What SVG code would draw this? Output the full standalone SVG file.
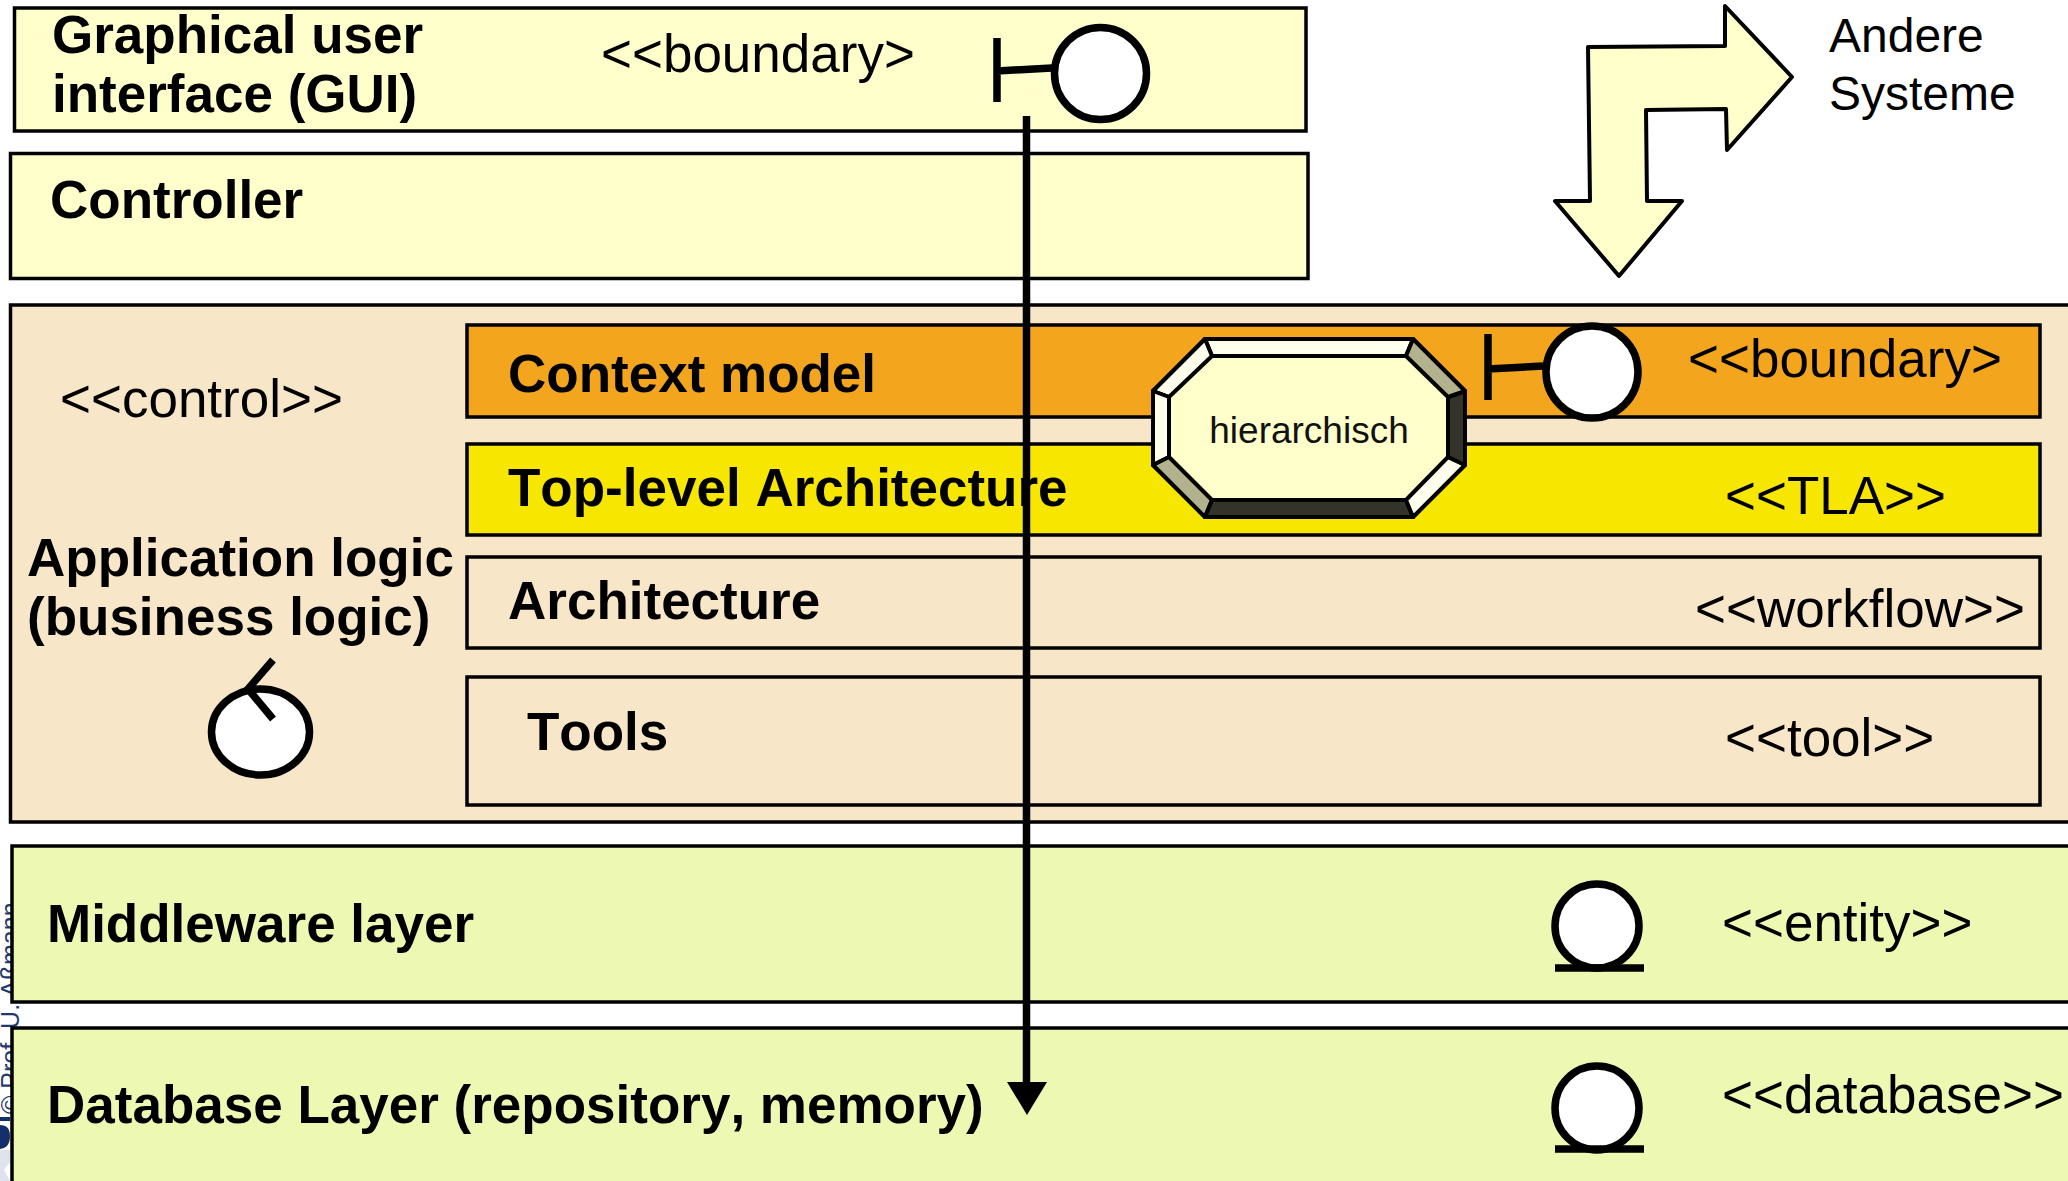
<svg xmlns="http://www.w3.org/2000/svg" width="2068" height="1181" viewBox="0 0 2068 1181">
<style>
text{font-family:"Liberation Sans",Arial,sans-serif;fill:#000;font-kerning:none}
.b{font-weight:700;font-size:53px}
.r{font-size:53px}
.s{font-size:48px}
.box{stroke:#000;stroke-width:3.5}
.sym{fill:#fff;stroke:#000;stroke-width:7.5}
.ln{fill:none;stroke:#000;stroke-width:7.5}
.bev{stroke:#000;stroke-width:4;stroke-linejoin:round}
</style>
<g id="watermark">
<text transform="translate(19 1114) rotate(-90)" style="font-size:25px;fill:#1f3a6e">© Prof. U. Aßmann</text>
<path d="M0 1117H10V1121H0ZM0 1125Q10 1125 10 1136Q10 1148 0 1149Z" fill="#14306a"/>
<path d="M0 1150H10V1162L4 1170L10 1181H0Z" fill="#dfe3ee"/>
</g>
<g id="gui">
<rect class="box" x="14.500" y="8" width="1291.500" height="123" fill="#ffffcc"/>
<text class="b" x="52" y="53">Graphical user</text>
<text class="b" x="52" y="112">interface (GUI)</text>
<text class="r" x="601" y="72">&lt;&lt;boundary&gt;</text>
<path class="ln" d="M997 38V102M997 71L1052 68"/>
<circle class="sym" cx="1100.500" cy="73.500" r="46"/>
</g>
<g id="controller">
<rect class="box" x="10.500" y="153.500" width="1297.500" height="125" fill="#ffffcc"/>
<text class="b" x="50" y="218">Controller</text>
</g>
<g id="application-logic">
<rect class="box" x="10.500" y="305" width="2070" height="517" fill="#f7e6c7"/>
<text class="r" x="60" y="417">&lt;&lt;control&gt;&gt;</text>
<text class="b" x="27" y="576">Application logic</text>
<text class="b" x="27" y="635">(business logic)</text>
<ellipse class="sym" cx="260.500" cy="732" rx="49" ry="43"/>
<path class="ln" d="M273 660L248 689L273 719"/>
</g>
<g id="context-model">
<rect class="box" x="467" y="325" width="1573" height="92" fill="#f3a51d"/>
<text class="b" x="508" y="392">Context model</text>
<text class="r" x="1688" y="377">&lt;&lt;boundary&gt;</text>
<path class="ln" d="M1488 334V400M1488 369L1543 366"/>
<circle class="sym" cx="1592" cy="372" r="46"/>
</g>
<g id="top-level-architecture">
<rect class="box" x="467" y="444" width="1573" height="91" fill="#f7e600"/>
<text class="b" x="508" y="506">Top-level Architecture</text>
<text class="r" x="1725" y="514">&lt;&lt;TLA&gt;&gt;</text>
</g>
<g id="architecture">
<rect class="box" x="467" y="557" width="1573" height="91" fill="#f7e6c7"/>
<text class="b" x="508" y="619">Architecture</text>
<text class="r" x="1695" y="627">&lt;&lt;workflow&gt;&gt;</text>
</g>
<g id="tools">
<rect class="box" x="467" y="677" width="1573" height="128" fill="#f7e6c7"/>
<text class="b" x="527" y="750">Tools</text>
<text class="r" x="1725" y="756">&lt;&lt;tool&gt;&gt;</text>
</g>
<g id="middleware">
<rect class="box" x="12" y="846" width="2070" height="156" fill="#edf9b3"/>
<text class="b" x="47" y="942">Middleware layer</text>
<text class="r" x="1722" y="941">&lt;&lt;entity&gt;&gt;</text>
<circle class="sym" cx="1597" cy="926" r="42"/>
<path class="ln" d="M1555 968H1644"/>
</g>
<g id="database">
<rect class="box" x="12" y="1028" width="2070" height="170" fill="#edf9b3"/>
<text class="b" x="47" y="1123">Database Layer (repository, memory)</text>
<text class="r" x="1722" y="1113">&lt;&lt;database&gt;&gt;</text>
<circle class="sym" cx="1597" cy="1108" r="42"/>
<path class="ln" d="M1555 1149H1644"/>
</g>
<g id="connectors">
<path class="ln" d="M1026.500 116V1085"/>
<path d="M1007 1082H1047L1027 1115Z" fill="#000"/>
</g>
<g id="hierarchisch">
<path class="bev" fill="#ffffcc" d="M1205 339H1413L1465 391V465L1413 517H1205L1153 465V391Z"/>
<path class="bev" fill="#ffffee" d="M1205 339H1413L1406 356H1212Z"/>
<path class="bev" fill="#ffffee" d="M1205 339L1212 356L1169 397L1153 391Z"/>
<path class="bev" fill="#ffffee" d="M1153 391L1169 397V457L1153 465Z"/>
<path class="bev" fill="#b2b28e" d="M1153 465L1169 457L1212 500L1205 517Z"/>
<path class="bev" fill="#333329" d="M1205 517L1212 500H1406L1413 517Z"/>
<path class="bev" fill="#ffffee" d="M1413 517L1406 500L1448 457L1465 465Z"/>
<path class="bev" fill="#333329" d="M1465 465L1448 457V397L1465 391Z"/>
<path class="bev" fill="#b2b28e" d="M1465 391L1448 397L1406 356L1413 339Z"/>
<text x="1309" y="443" text-anchor="middle" style="font-size:37px;fill:#111">hierarchisch</text>
</g>
<g id="andere-systeme">
<path fill="#ffffcc" stroke="#000" stroke-width="4" stroke-linejoin="round" d="M1588 47L1725 46V6L1792 77L1727 150L1726 109L1646 110L1647 201H1682L1619 276L1555 201H1590Z"/>
<text class="s" x="1829" y="52">Andere</text>
<text class="s" x="1829" y="110">Systeme</text>
</g>
</svg>
